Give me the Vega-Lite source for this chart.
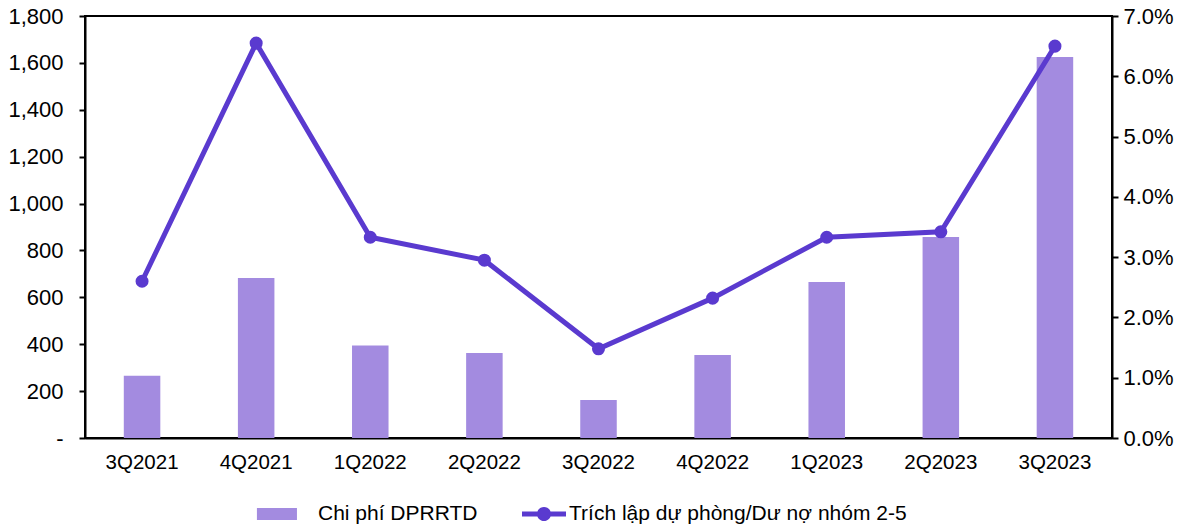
{
  "$schema": "https://vega.github.io/schema/vega-lite/v6.json",
  "width": 1027,
  "height": 422,
  "autosize": {"type": "none"},
  "padding": {"left": 85, "top": 16, "right": 69, "bottom": 90},
  "background": "white",
  "config": {
    "view": {"stroke": "black", "strokeWidth": 2},
    "font": "Liberation Sans",
    "axis": {"grid": false, "labelFont": "Liberation Sans", "labelFontSize": 20, "labelColor": "black", "domainColor": "black", "domainWidth": 2, "tickColor": "black", "tickWidth": 2}
  },
  "data": {
    "values": [
      {"q": "3Q2021", "cost": 265, "ratio": 0.0260},
      {"q": "4Q2021", "cost": 682, "ratio": 0.0655},
      {"q": "1Q2022", "cost": 395, "ratio": 0.0333},
      {"q": "2Q2022", "cost": 363, "ratio": 0.0295},
      {"q": "3Q2022", "cost": 162, "ratio": 0.0148},
      {"q": "4Q2022", "cost": 354, "ratio": 0.0232},
      {"q": "1Q2023", "cost": 665, "ratio": 0.0333},
      {"q": "2Q2023", "cost": 857, "ratio": 0.0342},
      {"q": "3Q2023", "cost": 1625, "ratio": 0.0650}
    ]
  },
  "encoding": {
    "x": {
      "field": "q", "type": "nominal", "sort": null,
      "scale": {"paddingInner": 0.68, "paddingOuter": 0.34},
      "axis": {"title": null, "labelAngle": 0, "ticks": false, "labelPadding": 14, "labelFontSize": 20.5}
    }
  },
  "layer": [
    {
      "mark": {"type": "bar"},
      "encoding": {
        "y": {
          "field": "cost", "type": "quantitative",
          "scale": {"domain": [0, 1800]},
          "axis": {"title": null, "orient": "left", "values": [0, 200, 400, 600, 800, 1000, 1200, 1400, 1600, 1800], "tickSize": 6, "labelPadding": 16, "labelFontSize": 22, "labelExpr": "datum.value == 0 ? '-' : format(datum.value, ',')"}
        },
        "color": {
          "datum": "Chi phí DPRRTD",
          "scale": {"domain": ["Chi phí DPRRTD", "Trích lập dự phòng/Dư nợ nhóm 2-5"], "range": ["#A38BE0", "#5A3ACF"]},
          "legend": {
            "title": null, "orient": "none", "direction": "horizontal", "legendX": 186, "legendY": 476,
            "labelFontSize": 21, "labelColor": "black", "labelFont": "Liberation Sans", "labelLimit": 0, "columnPadding": 44, "labelOffset": 3,
            "symbolSize": 1936, "symbolStrokeWidth": 0, "symbolOpacity": 1,
            "symbolType": {"expr": "datum.value == 'Chi phí DPRRTD' ? 'M-1.64,-0.27H0.18V0.27H-1.64Z' : 'M-1,-0.11H1V0.11H-1Z M0.32,0 A0.32,0.32 0 1 1 -0.32,0 A0.32,0.32 0 1 1 0.32,0Z'"},
            "symbolFillColor": {"expr": "datum.value == 'Chi phí DPRRTD' ? '#A38BE0' : '#5A3ACF'"}
          }
        }
      }
    },
    {
      "encoding": {
        "y": {
          "field": "ratio", "type": "quantitative",
          "scale": {"domain": [0, 0.07]},
          "axis": {"title": null, "orient": "right", "values": [0, 0.01, 0.02, 0.03, 0.04, 0.05, 0.06, 0.07], "format": ".1%", "tickSize": 6, "labelPadding": 5, "labelFontSize": 22}
        }
      },
      "layer": [
        {"mark": {"type": "line", "color": "#5A3ACF", "strokeWidth": 5}, "encoding": {}},
        {"mark": {"type": "point", "filled": true, "color": "#5A3ACF", "size": 170, "opacity": 1}, "encoding": {}}
      ]
    }
  ],
  "resolve": {"scale": {"y": "independent"}}
}
